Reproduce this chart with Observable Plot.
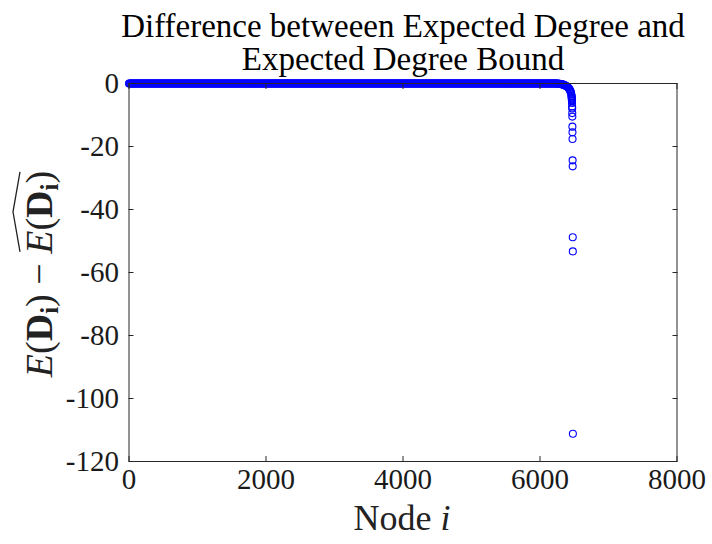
<!DOCTYPE html>
<html>
<head>
<meta charset="utf-8">
<script src="https://cdn.jsdelivr.net/npm/d3@7"></script>
<script src="https://cdn.jsdelivr.net/npm/@observablehq/plot@0.6"></script>
<style>
  html, body { margin: 0; padding: 0; background: #fff; }
  svg text, svg tspan { font-family: "Liberation Serif", "DejaVu Serif", serif !important; }
</style>
</head>
<body>
<div id="chart"></div>
<script>
// ---- Data ----
// Nodes 0..6200 all sit on (about) zero difference
const flatRunStart = 0;
const flatRunEnd = 6200;
const flatRunStep = 10;
const flatRunValue = 0;

// The bend near the end of the node range
const bendNodes  = [6210, 6220, 6230, 6240, 6250, 6260, 6270, 6280, 6290, 6300, 6310, 6320, 6330, 6340, 6350, 6360, 6370, 6380, 6390, 6400, 6410, 6420, 6430, 6440, 6445, 6450, 6455, 6460, 6462, 6463, 6464, 6465, 6466, 6467];
const bendValues = [0, 0, -0.01, -0.02, -0.03, -0.04, -0.06, -0.08, -0.11, -0.15, -0.2, -0.25, -0.3, -0.37, -0.45, -0.55, -0.65, -0.77, -0.9, -1.05, -1.25, -1.5, -1.8, -2.2, -2.5, -2.8, -3.2, -3.8, -4.1, -4.4, -4.7, -5.0, -5.3, -5.6];

// Isolated outliers at the largest node indices
const tailNodes  = [6468, 6469, 6470, 6471, 6472, 6473, 6474, 6475, 6476, 6477, 6478, 6479, 6480];
const tailValues = [-6.2, -7.3, -7.9, -9.4, -10.5, -13.7, -15.5, -17.6, -24.4, -26.3, -48.8, -53.3, -111.2];

const xTicks = [0, 2000, 4000, 6000, 8000];
const yTicks = [0, -20, -40, -60, -80, -100, -120];

const titleLines = ["Difference betweeen Expected Degree and", "Expected Degree Bound"];
const xLabel = "Node";
const xLabelVar = "i";

// ---- Build table ----
const points = [];
for (const n of d3.range(flatRunStart, flatRunEnd + 1, flatRunStep)) points.push({node: n, diff: flatRunValue});
bendNodes.forEach((n, i) => points.push({node: n, diff: bendValues[i]}));
tailNodes.forEach((n, i) => points.push({node: n, diff: tailValues[i]}));

const W = 712, H = 544;
const mL = 128.5, mR = 35.5, mT = 83, mB = 83;
const axisColor = "#262626";
const tickFont = 29;
const serif = "Liberation Serif";

const chart = Plot.plot({
  width: W,
  height: H,
  marginLeft: mL,
  marginRight: mR,
  marginTop: mT,
  marginBottom: mB,
  style: {fontFamily: serif, background: "#fff", color: axisColor, overflow: "visible"},
  x: {domain: [0, 8000], label: null},
  y: {domain: [-120, 0], label: null},
  marks: [
    Plot.dot(points, {x: "node", y: "diff", r: 3.5, stroke: "#0000ff", fill: "none", strokeWidth: 1.1}),
    Plot.frame({stroke: axisColor, strokeWidth: 1}),
    Plot.axisX({anchor: "bottom", ticks: xTicks, tickSize: 0, tickPadding: 7, fontSize: tickFont, fontFamily: serif, tickFormat: d => String(d), color: "#1a1a1a"}),
    Plot.axisX({anchor: "bottom", ticks: xTicks, tickSize: -5, text: null, stroke: axisColor}),
    Plot.axisX({anchor: "top", ticks: xTicks, tickSize: -5, text: null, stroke: axisColor}),
    Plot.axisY({anchor: "left", ticks: yTicks, tickSize: 0, tickPadding: 10, fontSize: tickFont, fontFamily: serif, tickFormat: d => (d < 0 ? "-" + Math.abs(d) : String(d)), color: "#1a1a1a"}),
    Plot.axisY({anchor: "left", ticks: yTicks, tickSize: -5, text: null, stroke: axisColor}),
    Plot.axisY({anchor: "right", ticks: yTicks, tickSize: -5, text: null, stroke: axisColor})
  ]
});

document.getElementById("chart").appendChild(chart);
const svg = d3.select(chart);
svg.selectAll("text").attr("font-family", serif);

// Title
const title = svg.append("text")
  .attr("text-anchor", "middle")
  .attr("font-family", serif)
  .attr("font-size", 33)
  .attr("fill", "#000");
title.append("tspan").attr("x", 403).attr("y", 37).text(titleLines[0]);
title.append("tspan").attr("x", 403).attr("y", 70).text(titleLines[1]);

// X label
const xl = svg.append("text")
  .attr("x", 402)
  .attr("y", 530)
  .attr("text-anchor", "middle")
  .attr("font-family", serif)
  .attr("font-size", 36)
  .attr("fill", "#222");
xl.append("tspan").text(xLabel + " ");
xl.append("tspan").attr("font-style", "italic").text(xLabelVar);

// Y label: E(D_i) − widehat{E(D_i)}
const g = svg.append("g").attr("transform", `translate(52,274) rotate(-90)`);
const yl = g.append("text")
  .attr("text-anchor", "middle")
  .attr("font-family", serif)
  .attr("font-size", 38)
  .attr("fill", "#222");
function eOfD(t) {
  t.append("tspan").attr("font-style", "italic").text("E");
  t.append("tspan").text("(");
  t.append("tspan").attr("font-weight", "bold").text("D");
  t.append("tspan").attr("font-weight", "bold").attr("font-size", 25).attr("dy", 6).text("i");
  t.append("tspan").attr("dy", -6).text(")");
}
eOfD(yl);
yl.append("tspan").text(" \u2212 ");
const hatStart = yl.node().getComputedTextLength();
eOfD(yl);
const total = yl.node().getComputedTextLength();
const x0 = -total / 2 + hatStart + 2, x1 = total / 2 - 1;
const hy = -35;
g.append("path")
  .attr("d", `M${x0},${hy + 3}L${(x0 + x1) / 2},${hy - 4}L${x1},${hy + 3}`)
  .attr("fill", "none")
  .attr("stroke", "#222")
  .attr("stroke-width", 1.3);
</script>
</body>
</html>
